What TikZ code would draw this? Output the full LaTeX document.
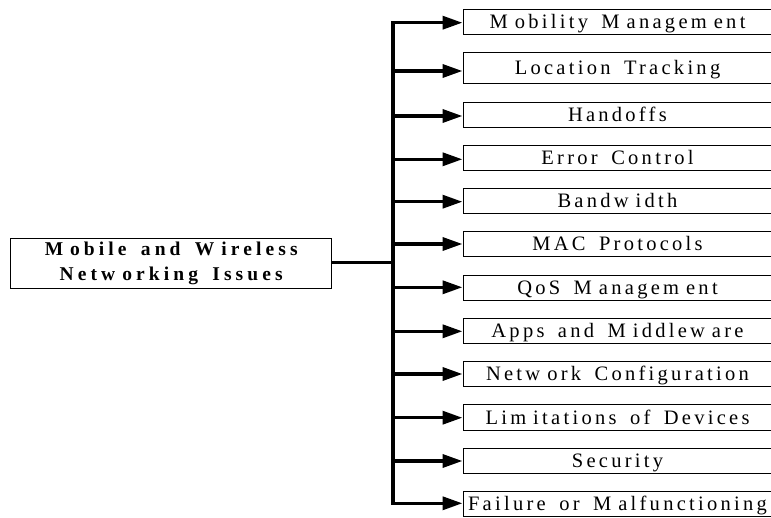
\documentclass[tikz,border=0pt]{standalone}
\usepackage{fontspec}
\setmainfont{Liberation Serif}
\newfontfamily\spacedfont[LetterSpace=16,WordSpace=1.6]{Liberation Serif}
\newfontfamily\widefont[LetterSpace=21,WordSpace=1.6]{Liberation Serif}
\usetikzlibrary{arrows.meta}
% extra gap that follows the wide letters M, W, w and m
\newcommand\K{\hspace{7pt}}

\begin{document}
\begin{tikzpicture}[x=1pt,y=-1pt,
  itembox/.style={draw, line width=1pt, inner sep=0pt, minimum width=309pt,
    minimum height=25pt, text height=13.4pt, text depth=0pt,
    font=\spacedfont\fontsize{20.5}{22}\selectfont},
  rootbox/.style={draw, line width=1.3pt, inner sep=0pt, minimum width=321pt,
    minimum height=50pt, align=center,
    font=\widefont\bfseries\fontsize{19.5}{25.6}\selectfont},
  trunk/.style={line width=4pt, line cap=rect},
  branch/.style={line width=3.5pt, -{Triangle[length=20pt,width=13pt]}},
  link/.style={line width=3.5pt}]
\useasboundingbox (0,0) rectangle (771,518);

% root topic
\node[rootbox] (root) at (171.2,263.3) {M\K obile and W\K ireless\\Netw\K orking Issues};

% issue boxes
\node[itembox] (b1)  at (617.5,21.8)  {M\K obility M\K anagem\K ent};
\node[itembox, minimum height=31pt] (b2) at (617.5,67.8) {Location Tracking};
\node[itembox] (b3)  at (617.5,114.8) {H\hspace{3pt}andoffs};
\node[itembox] (b4)  at (617.5,158)   {Error Control};
\node[itembox] (b5)  at (617.5,200.8) {Bandw\K idth};
\node[itembox] (b6)  at (617.5,244.2) {MAC Protocols};
\node[itembox] (b7)  at (617.5,287.7) {QoS M\K anagem\K ent};
\node[itembox] (b8)  at (617.5,331)   {Apps and M\K iddlew\K are};
\node[itembox] (b9)  at (617.5,373.8) {Netw\K ork Configuration};
\node[itembox] (b10) at (617.5,417.5) {Lim\K itations of Devices};
\node[itembox] (b11) at (617.5,460.8) {Security};
\node[itembox] (b12) at (617.5,504.2) {Failure or M\K alfunctioning};

% branch points on the trunk
\coordinate (t1)  at (393.3,22.7);
\coordinate (t2)  at (393.3,71);
\coordinate (t3)  at (393.3,116);
\coordinate (t4)  at (393.3,159.3);
\coordinate (t5)  at (393.3,201.7);
\coordinate (t6)  at (393.3,244);
\coordinate (t7)  at (393.3,287.3);
\coordinate (t8)  at (393.3,331.3);
\coordinate (t9)  at (393.3,374);
\coordinate (t10) at (393.3,417.7);
\coordinate (t11) at (393.3,461);
\coordinate (t12) at (393.3,503.3);
\coordinate (tj)  at (393.3,262.7);

% trunk and link from the root
\draw[trunk] (t1) -- (t12);
\draw[link] (root.east |- tj) -- (tj);

% arrows to each issue
\foreach \i in {1,...,12}
  \draw[branch] (t\i) -- (t\i -| b\i.west);
\end{tikzpicture}
\end{document}
